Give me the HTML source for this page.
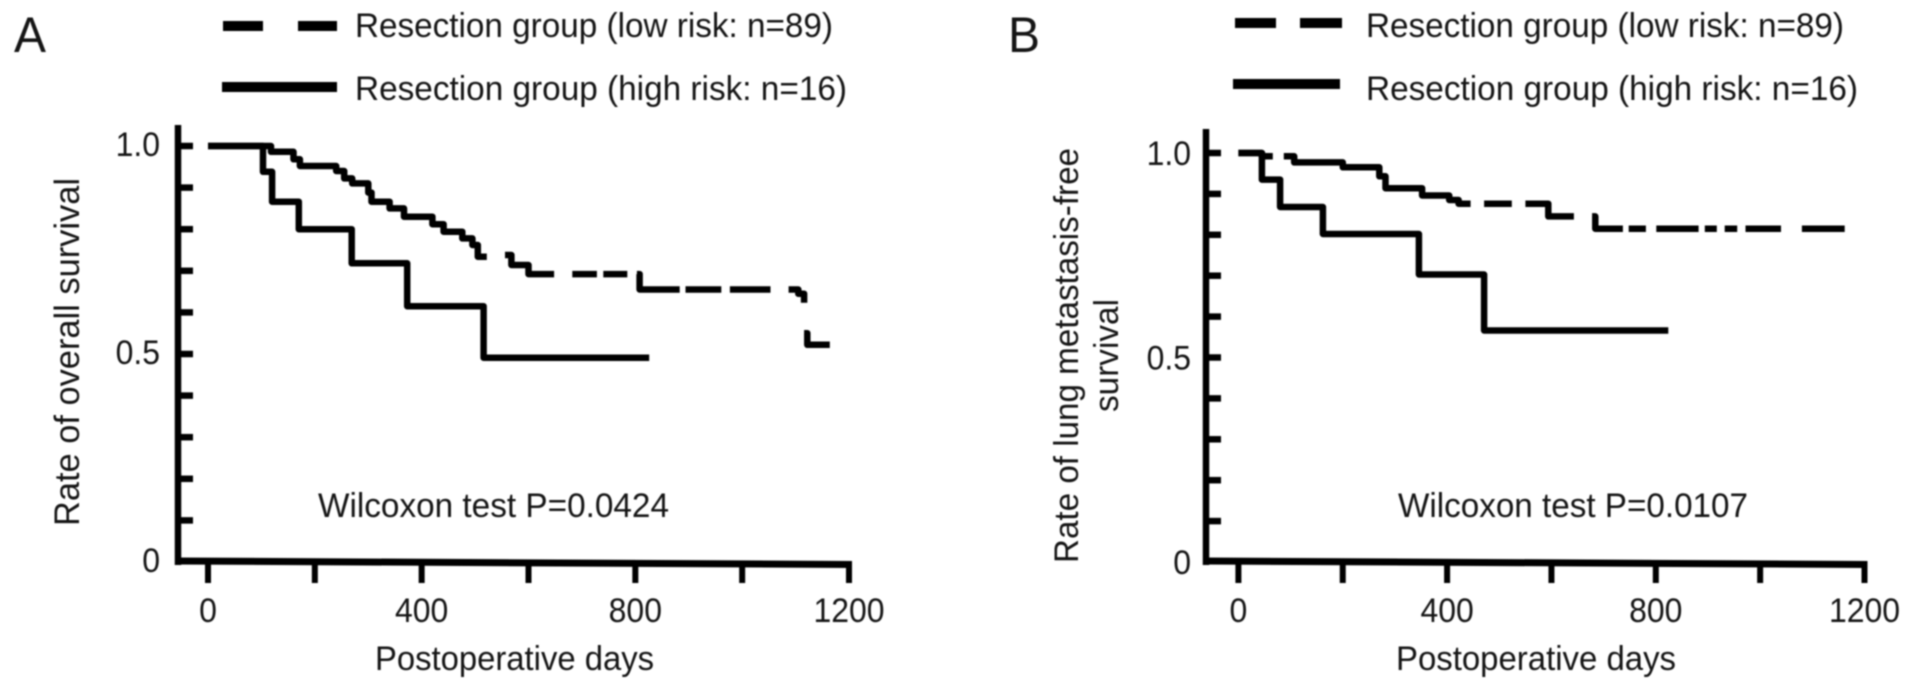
<!DOCTYPE html>
<html lang="en">
<head>
<meta charset="utf-8">
<title>Survival curves by risk group</title>
<style>
html,body{margin:0;padding:0;background:#fff;}
svg{display:block;}
text{font-family:"Liberation Sans",Arial,sans-serif;fill:#151515;}
</style>
</head>
<body>
<svg id="figure" xmlns="http://www.w3.org/2000/svg" width="1913" height="690" viewBox="0 0 1913 690" style="filter:blur(0.8px)">
  <g>
    <text x="14" y="52" font-size="50" textLength="32" lengthAdjust="spacingAndGlyphs">A</text>
    <line x1="223" y1="26" x2="263" y2="26" stroke="#000" stroke-width="10"/>
    <line x1="298" y1="26" x2="337" y2="26" stroke="#000" stroke-width="10"/>
    <text x="355" y="37" font-size="34" textLength="478" lengthAdjust="spacingAndGlyphs">Resection group (low risk: n=89)</text>
    <line x1="222" y1="87" x2="337" y2="87" stroke="#000" stroke-width="10"/>
    <text x="355" y="100" font-size="34" textLength="492" lengthAdjust="spacingAndGlyphs">Resection group (high risk: n=16)</text>
    <text transform="translate(79,526) rotate(-90)" font-size="35" textLength="348" lengthAdjust="spacingAndGlyphs">Rate of overall survival</text>
    <text x="375" y="670" font-size="34" textLength="279" lengthAdjust="spacingAndGlyphs">Postoperative days</text>
    <text x="318" y="517" font-size="34" textLength="351" lengthAdjust="spacingAndGlyphs">Wilcoxon test P=0.0424</text>
  </g>
  <g>
    <text x="1008" y="52" font-size="50" textLength="32" lengthAdjust="spacingAndGlyphs">B</text>
    <line x1="1235" y1="23" x2="1276" y2="23" stroke="#000" stroke-width="10"/>
    <line x1="1300" y1="23" x2="1342" y2="23" stroke="#000" stroke-width="10"/>
    <text x="1366" y="37" font-size="34" textLength="478" lengthAdjust="spacingAndGlyphs">Resection group (low risk: n=89)</text>
    <line x1="1233" y1="84" x2="1340" y2="84" stroke="#000" stroke-width="10"/>
    <text x="1366" y="100" font-size="34" textLength="492" lengthAdjust="spacingAndGlyphs">Resection group (high risk: n=16)</text>
    <text transform="translate(1078,563) rotate(-90)" font-size="34" textLength="415" lengthAdjust="spacingAndGlyphs">Rate of lung metastasis-free</text>
    <text transform="translate(1118,412) rotate(-90)" font-size="34" textLength="113" lengthAdjust="spacingAndGlyphs">survival</text>
    <text x="1396" y="670" font-size="34" textLength="280" lengthAdjust="spacingAndGlyphs">Postoperative days</text>
    <text x="1398" y="517" font-size="34" textLength="350" lengthAdjust="spacingAndGlyphs">Wilcoxon test P=0.0107</text>
  </g>
</svg>
<script>
// Shared axis ticks
const xTickValues = [0, 200, 400, 600, 800, 1000, 1200];
const xTickLabels = ["0", "", "400", "", "800", "", "1200"];
const yTickValues = [0.1, 0.2, 0.3, 0.4, 0.5, 0.6, 0.7, 0.8, 0.9, 1.0];
const yLabelValues = [0, 0.5, 1.0];
const yLabelTexts = ["0", "0.5", "1.0"];

// Panel A: overall survival. null marks a gap in the drawn curve.
const aLowDays = [0, 118, 160, 172, 240, 255, 270, 300, 306, 340, 367, 420, 441, 476, 495, 505, 522, null, 556, 568, 600, 648, null, 682, 728, null, 740, 785, null, 803, 808, 883, null, 894, 961, null, 977, 1053, null, 1087, 1105, 1116, null, 1116, 1122, 1164];
const aLowSurvival = [1, 0.986, 0.968, 0.952, 0.94, 0.922, 0.91, 0.888, 0.866, 0.85, 0.83, 0.812, 0.794, 0.778, 0.762, 0.734, 0.734, null, 0.738, 0.714, 0.692, 0.692, null, 0.692, 0.692, null, 0.692, 0.692, null, 0.692, 0.655, 0.655, null, 0.655, 0.655, null, 0.655, 0.655, null, 0.655, 0.645, 0.623, null, 0.55, 0.522, 0.522];
const aHighDays = [0, 103, 120, 170, 269, 373, 516, 826];
const aHighSurvival = [1, 0.938, 0.866, 0.8, 0.718, 0.615, 0.491, 0.491];

// Panel B: lung metastasis-free survival
const bLowDays = [0, 45, 66, null, 87, 107, 200, 206, 255, 270, 282, 352, 358, 404, 422, 445, null, 471, 524, null, 550, 594, 643, null, 678, 684, 737, null, 748, 781, null, 801, 882, null, 894, 917, null, 932, 956, null, 972, 1040, null, 1080, 1162];
const bLowSurvival = [1, 0.992, 0.992, null, 0.992, 0.977, 0.965, 0.965, 0.965, 0.943, 0.914, 0.896, 0.896, 0.885, 0.876, 0.876, null, 0.876, 0.876, null, 0.876, 0.845, 0.845, null, 0.845, 0.815, 0.815, null, 0.815, 0.815, null, 0.815, 0.815, null, 0.815, 0.815, null, 0.815, 0.815, null, 0.815, 0.815, null, 0.815, 0.815];
const bHighDays = [0, 45, 80, 162, 346, 471, 824];
const bHighSurvival = [1, 0.935, 0.868, 0.802, 0.703, 0.566, 0.566];

const NS = "http://www.w3.org/2000/svg";
const figure = document.getElementById("figure");

function makeScale(d0, px0, d1, px1) {
  return function (v) { return px0 + (v - d0) * (px1 - px0) / (d1 - d0); };
}

function addLine(parent, x1, y1, x2, y2, w, name) {
  const node = document.createElementNS(NS, "line");
  node.setAttribute("x1", x1);
  node.setAttribute("y1", y1);
  node.setAttribute("x2", x2);
  node.setAttribute("y2", y2);
  node.setAttribute("stroke", "#000");
  node.setAttribute("stroke-width", w);
  
  
  parent.appendChild(node);
  return node;
}

function addText(parent, x, y, anchor, str, name) {
  const node = document.createElementNS(NS, "text");
  node.setAttribute("x", x);
  node.setAttribute("y", y);
  node.setAttribute("text-anchor", anchor);
  node.setAttribute("font-size", "34");
  node.textContent = str;
  
  
  parent.appendChild(node);
  node.setAttribute("textLength", (node.getComputedTextLength() * 0.94).toFixed(1));
  node.setAttribute("lengthAdjust", "spacingAndGlyphs");
  return node;
}

function stepPath(days, surv, x, y) {
  let d = "";
  let prevY = null;
  for (let i = 0; i < days.length; i++) {
    if (days[i] === null) { prevY = null; continue; }
    const px = x(days[i]).toFixed(1);
    const py = y(surv[i]).toFixed(1);
    if (prevY === null) {
      d += "M" + px + " " + py;
    } else {
      d += "L" + px + " " + prevY + "L" + px + " " + py;
    }
    prevY = py;
  }
  return d;
}

function addCurve(parent, days, surv, x, y, name) {
  const node = document.createElementNS(NS, "path");
  node.setAttribute("d", stepPath(days, surv, x, y));
  node.setAttribute("fill", "none");
  node.setAttribute("stroke", "#000");
  node.setAttribute("stroke-width", "6.5");
  node.setAttribute("stroke-linejoin", "round");
  
  
  parent.appendChild(node);
}

function drawPanel(p) {
  const group = document.createElementNS(NS, "g");
  
  
  figure.appendChild(group);

  const x = makeScale(0, p.x0, 1200, p.x1200);
  const y = makeScale(0, p.y0, 1, p.y1);

  addLine(group, p.axisX, p.axisTop, p.axisX, p.y0 + 3, 6.5, p.key + "-y-axis");
  addLine(group, p.axisX - 3, p.y0 - 1, x(1200) + 3, p.y0 + 2.5, 7, p.key + "-x-axis");

  xTickValues.forEach(function (v, i) {
    const tx = x(v);
    addLine(group, tx, p.y0 + 1, tx, 583, 6, p.key + "-x-tick");
    if (xTickLabels[i]) {
      addText(group, tx, 622, "middle", xTickLabels[i], p.key + "-x-tick-label");
    }
  });

  yTickValues.forEach(function (v) {
    addLine(group, p.axisX, y(v), p.axisX + 15, y(v), 6.5, p.key + "-y-tick");
  });

  yLabelValues.forEach(function (v, i) {
    addText(group, p.labelRight, y(v) + p.labelDrop, "end", yLabelTexts[i], p.key + "-y-tick-label");
  });

  addCurve(group, p.lowDays, p.lowSurvival, x, y, p.key + "-low-risk-curve");
  addCurve(group, p.highDays, p.highSurvival, x, y, p.key + "-high-risk-curve");
}

drawPanel({
  key: "panel-a", axisX: 178, axisTop: 125, x0: 208, x1200: 849, y0: 562, y1: 146,
  labelRight: 160, labelDrop: 10,
  lowDays: aLowDays, lowSurvival: aLowSurvival, highDays: aHighDays, highSurvival: aHighSurvival
});
drawPanel({
  key: "panel-b", axisX: 1206, axisTop: 129, x0: 1238.4, x1200: 1864.5, y0: 562, y1: 153,
  labelRight: 1191, labelDrop: 12,
  lowDays: bLowDays, lowSurvival: bLowSurvival, highDays: bHighDays, highSurvival: bHighSurvival
});
</script>
</body>
</html>
